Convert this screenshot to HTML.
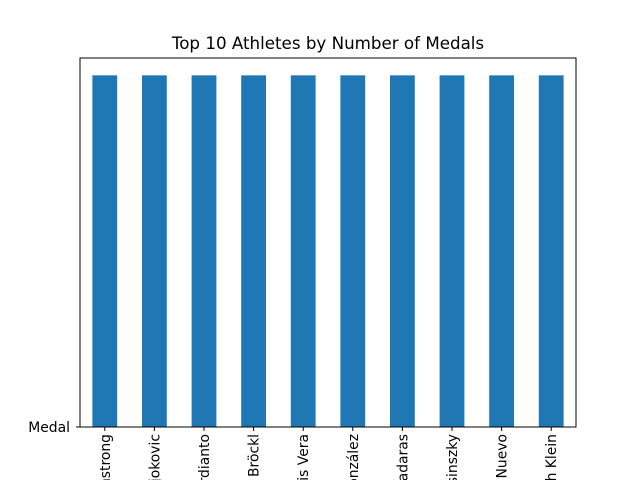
<!DOCTYPE html>
<html><head><meta charset="utf-8"><style>
body{margin:0;background:#fff;width:640px;height:480px;overflow:hidden}
svg{display:block;overflow:hidden;font-family:"DejaVu Sans","Liberation Sans",sans-serif}
</style></head><body>
<svg id="chart" width="640" height="480">
<defs><clipPath id="frameclip"><rect x="0" y="0" width="640" height="480"/></clipPath></defs>
<rect width="640" height="480" fill="#fff"/>
<text x="328" y="49" text-anchor="middle" font-size="16.7">Top 10 Athletes by Number of Medals</text>
<g id="bars"></g>
<g id="xticks" clip-path="url(#frameclip)"></g>
<g id="yticks"></g>
<rect x="80" y="58" width="496" height="369" fill="none" stroke="#000" stroke-width="1"/>
</svg>
<script>
const categories=["Lance Armstrong","Novak Djokovic","Hendra Ardianto","Herbert Bröckl","Luis Vera","Marta González","Iván Quadaras","Géza Kovácsinszky","Pablo Nuevo","Ulrich Klein"];
const values=[1,1,1,1,1,1,1,1,1,1];
const yTickLabels=["Medal"];
const yTickValues=[0];
const L=80,R=576,T=58,B=427;
const xmin=-0.5,xmax=categories.length-0.5;
const ymax=Math.max(...values)/0.953;
const xs=v=>L+(v-xmin)/(xmax-xmin)*(R-L);
const ys=v=>B-v/ymax*(B-T);
const NS="http://www.w3.org/2000/svg";
const gb=document.getElementById('bars'),gx=document.getElementById('xticks'),gy=document.getElementById('yticks');
categories.forEach((c,i)=>{
  const r=document.createElementNS(NS,'rect');
  r.setAttribute('x',xs(i-0.25));r.setAttribute('width',xs(i+0.25)-xs(i-0.25));
  r.setAttribute('y',ys(values[i]));r.setAttribute('height',ys(0)-ys(values[i]));
  r.setAttribute('fill','#1f77b4');
  
  
  gb.appendChild(r);
  const t=document.createElementNS(NS,'line');
  t.setAttribute('x1',xs(i));t.setAttribute('x2',xs(i));t.setAttribute('y1',B);t.setAttribute('y2',B+4);
  t.setAttribute('stroke','#000');
  
  
  gx.appendChild(t);
  const tx=document.createElementNS(NS,'text');
  tx.setAttribute('transform',`translate(${xs(i)+5},${B+7}) rotate(-90)`);
  tx.setAttribute('text-anchor','end');tx.setAttribute('font-size','13.9');
  tx.textContent=c;
  
  
  gx.appendChild(tx);
});
yTickValues.forEach((v,i)=>{
  const t=document.createElementNS(NS,'line');
  t.setAttribute('x1',L-4);t.setAttribute('x2',L);t.setAttribute('y1',ys(v));t.setAttribute('y2',ys(v));
  t.setAttribute('stroke','#000');
  
  
  gy.appendChild(t);
  const tx=document.createElementNS(NS,'text');
  tx.setAttribute('x',L-10);tx.setAttribute('y',ys(v)+5);
  tx.setAttribute('text-anchor','end');tx.setAttribute('font-size','13.9');
  tx.textContent=yTickLabels[i];
  
  
  gy.appendChild(tx);
});
</script>
</body></html>
